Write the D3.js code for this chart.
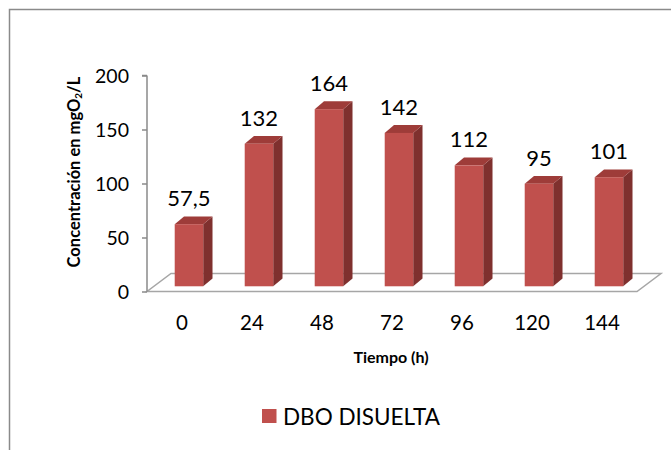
<!DOCTYPE html>
<html>
<head>
<meta charset="utf-8">
<script src="https://cdn.jsdelivr.net/npm/d3@7"></script>
<style>
  html, body { margin: 0; padding: 0; background: #fff; }
  svg { display: block; }
  text { font-family: Lato, "Open Sans", sans-serif; fill: #000; }
</style>
</head>
<body>
<svg id="chart" width="671" height="450"></svg>
<script>
// Data: dissolved BOD over time
const categories = ["0", "24", "48", "72", "96", "120", "144"];
const values = [57.5, 132, 164, 142, 112, 95, 101];
const valueLabels = ["57,5", "132", "164", "142", "112", "95", "101"];
const yTicks = [0, 50, 100, 150, 200];
const seriesName = "DBO DISUELTA";

const svg = d3.select("#chart");

// frame around the chart area
svg.append("rect")
  .attr("x", 9.5).attr("y", 9.5)
  .attr("width", 720).attr("height", 520)
  .attr("fill", "none")
  .attr("stroke", "#8a8a8a")
  .attr("stroke-width", 1.5);

// front plane scales
const x = d3.scaleBand().domain(categories).range([147, 637]);
const y = d3.scaleLinear().domain([0, 200]).range([291.5, 75.5]);

// oblique depth of the floor and of each bar
const floorDepth = { dx: 24, dy: -18 };
const barOffset = 0.29;             // fraction of the floor depth where bar fronts sit
const barDepth = { dx: 9.3, dy: -7.8 };
const barWidth = 28.5;

const colors = { front: "#c0504d", side: "#7f302e", top: "#9e3c39" };

// floor outline
const y0 = y(0);
const floorPts = [
  [x.range()[0], y0],
  [x.range()[1], y0],
  [x.range()[1] + floorDepth.dx, y0 + floorDepth.dy],
  [x.range()[0] + floorDepth.dx, y0 + floorDepth.dy]
];
svg.append("polygon")
  .attr("points", floorPts.map(p => p.join(",")).join(" "))
  .attr("fill", "none")
  .attr("stroke", "#a6a6a6")
  .attr("stroke-width", 1.5);

// value axis
const axisG = svg.append("g").attr("transform", `translate(${x.range()[0]},0)`);
axisG.call(d3.axisLeft(y).tickValues(yTicks).tickSize(5).tickPadding(0).tickFormat(""));
axisG.select(".domain").attr("stroke", "#8a8a8a").attr("stroke-width", 1.5)
  .attr("d", `M0,${y(200)}V${y(0)}M-5,${y(200)}H0`);
axisG.selectAll(".tick line").attr("stroke", "#8a8a8a").attr("stroke-width", 1.5);

svg.append("g").selectAll("text")
  .data(yTicks)
  .join("text")
  .attr("x", 129)
  .attr("y", d => y(d) + 7)
  .attr("text-anchor", "end")
  .attr("font-size", 19.5)
  .text(d => d);

// bars
const shiftX = floorDepth.dx * barOffset;
const shiftY = floorDepth.dy * barOffset;
const bars = svg.append("g").selectAll("g")
  .data(values.map((v, i) => ({ cat: categories[i], v, label: valueLabels[i] })))
  .join("g");

bars.each(function(d) {
  const g = d3.select(this);
  const left = x(d.cat) + (x.bandwidth() - barWidth) / 2 + shiftX;
  const right = left + barWidth;
  const bottom = y(0) + shiftY;
  const top = y(d.v) + shiftY;
  const ddx = barDepth.dx, ddy = barDepth.dy;

  g.append("polygon") // side face
    .attr("points", [[right, top], [right + ddx, top + ddy], [right + ddx, bottom + ddy], [right, bottom]]
      .map(p => p.join(",")).join(" "))
    .attr("fill", colors.side);
  g.append("polygon") // top face
    .attr("points", [[left, top], [left + ddx, top + ddy], [right + ddx, top + ddy], [right, top]]
      .map(p => p.join(",")).join(" "))
    .attr("fill", colors.top);
  g.append("rect") // front face
    .attr("x", left).attr("y", top)
    .attr("width", barWidth).attr("height", bottom - top)
    .attr("fill", colors.front);

  g.append("text")
    .attr("x", left + barWidth / 2)
    .attr("y", top - 18)
    .attr("text-anchor", "middle")
    .attr("font-size", 22)
    .text(d.label);
});

// category labels
svg.append("g").selectAll("text")
  .data(categories)
  .join("text")
  .attr("x", d => x(d) + x.bandwidth() / 2)
  .attr("y", 330)
  .attr("text-anchor", "middle")
  .attr("font-size", 20.5)
  .text(d => d);

// axis titles
svg.append("text")
  .attr("x", 391).attr("y", 363)
  .attr("text-anchor", "middle")
  .attr("font-size", 16)
  .attr("font-weight", "bold")
  .text("Tiempo (h)");

const yTitle = svg.append("text")
  .attr("transform", "translate(80,172) rotate(-90)")
  .attr("text-anchor", "middle")
  .attr("font-size", 16.5)
  .attr("font-weight", "bold");
yTitle.append("tspan").text("Concentración en mgO");
yTitle.append("tspan").attr("font-size", 10).attr("dy", 2).text("2");
yTitle.append("tspan").attr("dy", -2).text("/L");

// legend
svg.append("rect")
  .attr("x", 262).attr("y", 409)
  .attr("width", 14.5).attr("height", 14)
  .attr("fill", colors.front);
svg.append("text")
  .attr("x", 283).attr("y", 425)
  .attr("font-size", 22.5)
  .text(seriesName);
</script>
</body>
</html>
